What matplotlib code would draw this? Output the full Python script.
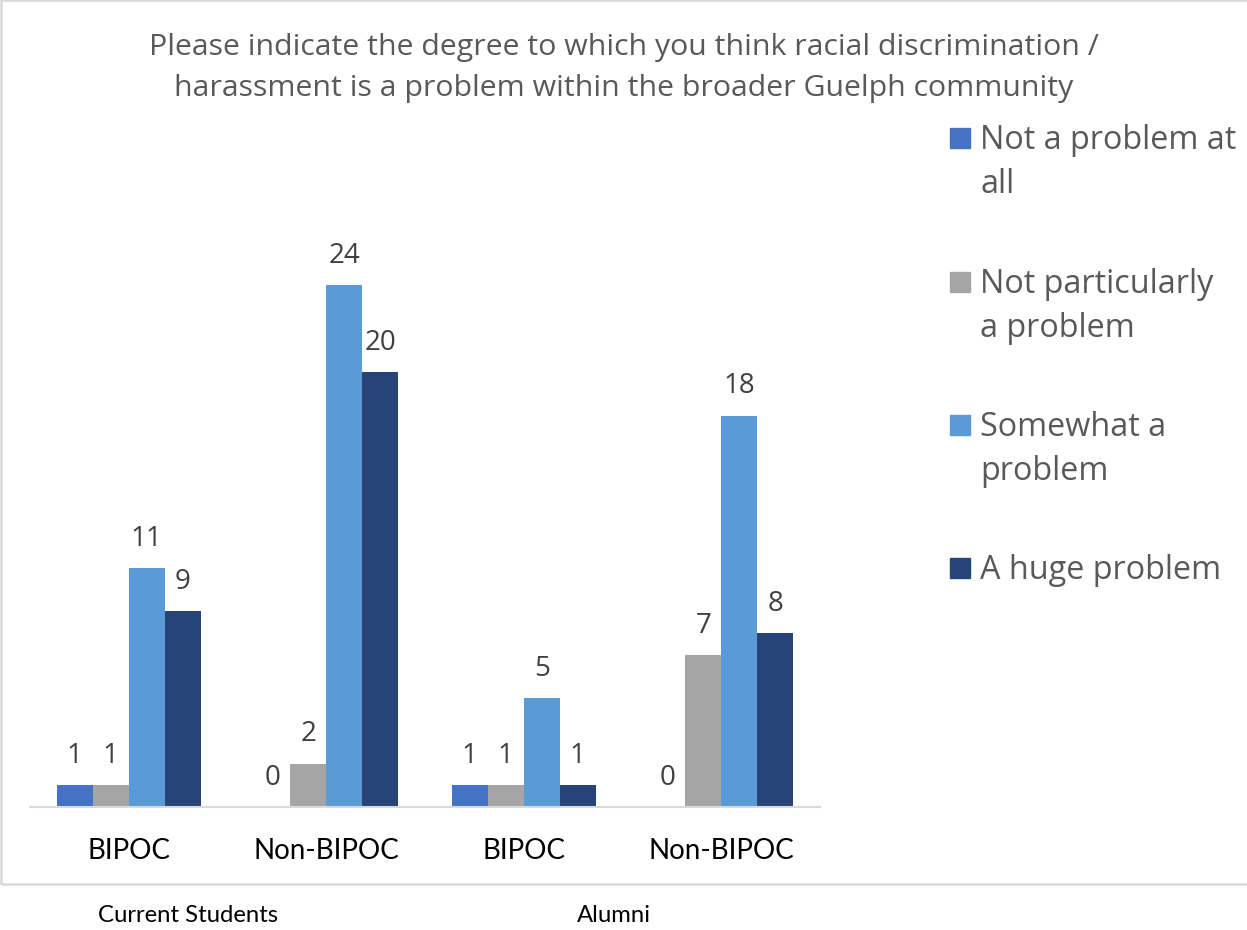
import matplotlib.pyplot as plt
from matplotlib.patches import Rectangle
import numpy as np

# survey counts, one list per answer
groups = ["BIPOC", "Non-BIPOC", "BIPOC", "Non-BIPOC"]
cohorts = ["Current Students", "Alumni"]
answers = ["Not a problem at\nall", "Not particularly\na problem",
           "Somewhat a\nproblem", "A huge problem"]
not_at_all = [1, 0, 1, 0]
not_particularly = [1, 2, 1, 7]
somewhat = [11, 24, 5, 18]
huge = [9, 20, 1, 8]
series = [not_at_all, not_particularly, somewhat, huge]
colors = ["#4472C4", "#A5A5A5", "#5B9BD5", "#264478"]

W, H = 1247, 930
fig = plt.figure(figsize=(W / 100, H / 100), dpi=100)

# light frame around the chart area
fig.patches.append(Rectangle((1 / W, 1 - 884 / H), 1.2, 884 / H,
                             transform=fig.transFigure, fill=False,
                             edgecolor="#d9d9d9", lw=1.8))

ax = fig.add_axes([30 / W, 1 - 807 / H, 790 / W, (807 - 241.5) / H])
x = np.arange(len(groups))
bw = 0.182
for i, vals in enumerate(series):
    pos = x + (i - 1.5) * bw
    bars = ax.bar(pos, vals, bw, color=colors[i], zorder=2)
    for p, v in zip(pos, vals):
        ax.annotate(str(v), (p, v), xytext=(0, 21), textcoords="offset points",
                    ha="center", va="center", fontsize=20, color="#404040",
                    family="Open Sans")

ax.set_xlim(-0.5, 3.5)
ax.set_ylim(0, 26)
ax.set_yticks([])
ax.set_xticks(x)
ax.set_xticklabels(groups, fontsize=20, family="Lato", color="#000000")
ax.tick_params(axis="x", length=0, pad=22)
for s in ["top", "right", "left"]:
    ax.spines[s].set_visible(False)
ax.spines["bottom"].set_color("#d9d9d9")
ax.spines["bottom"].set_linewidth(1.5)

fig.text(624 / W, 1 - 68 / H,
         "Please indicate the degree to which you think racial discrimination /\n"
         "harassment is a problem within the broader Guelph community",
         ha="center", va="center", fontsize=21.8, color="#595959",
         family="Open Sans", linespacing=1.55)

# legend drawn by hand so the swatch sits on the first line
legend_y = [138, 282, 425, 568]
for lab, c, y in zip(answers, colors, legend_y):
    fig.patches.append(Rectangle((950 / W, 1 - (y + 10) / H), 20 / W, 20 / H,
                                 transform=fig.transFigure, color=c))
    fig.text(980 / W, 1 - (y - 14) / H, lab, ha="left", va="top",
             fontsize=23.3, color="#595959", family="Open Sans",
             linespacing=1.43)

fig.text(188 / W, 1 - 915 / H, cohorts[0], ha="center", va="center",
         fontsize=17.2, family="Lato", color="#000000")
fig.text(614 / W, 1 - 915 / H, cohorts[1], ha="center", va="center",
         fontsize=17.2, family="Lato", color="#000000")

fig.savefig("out.png", dpi=100)
